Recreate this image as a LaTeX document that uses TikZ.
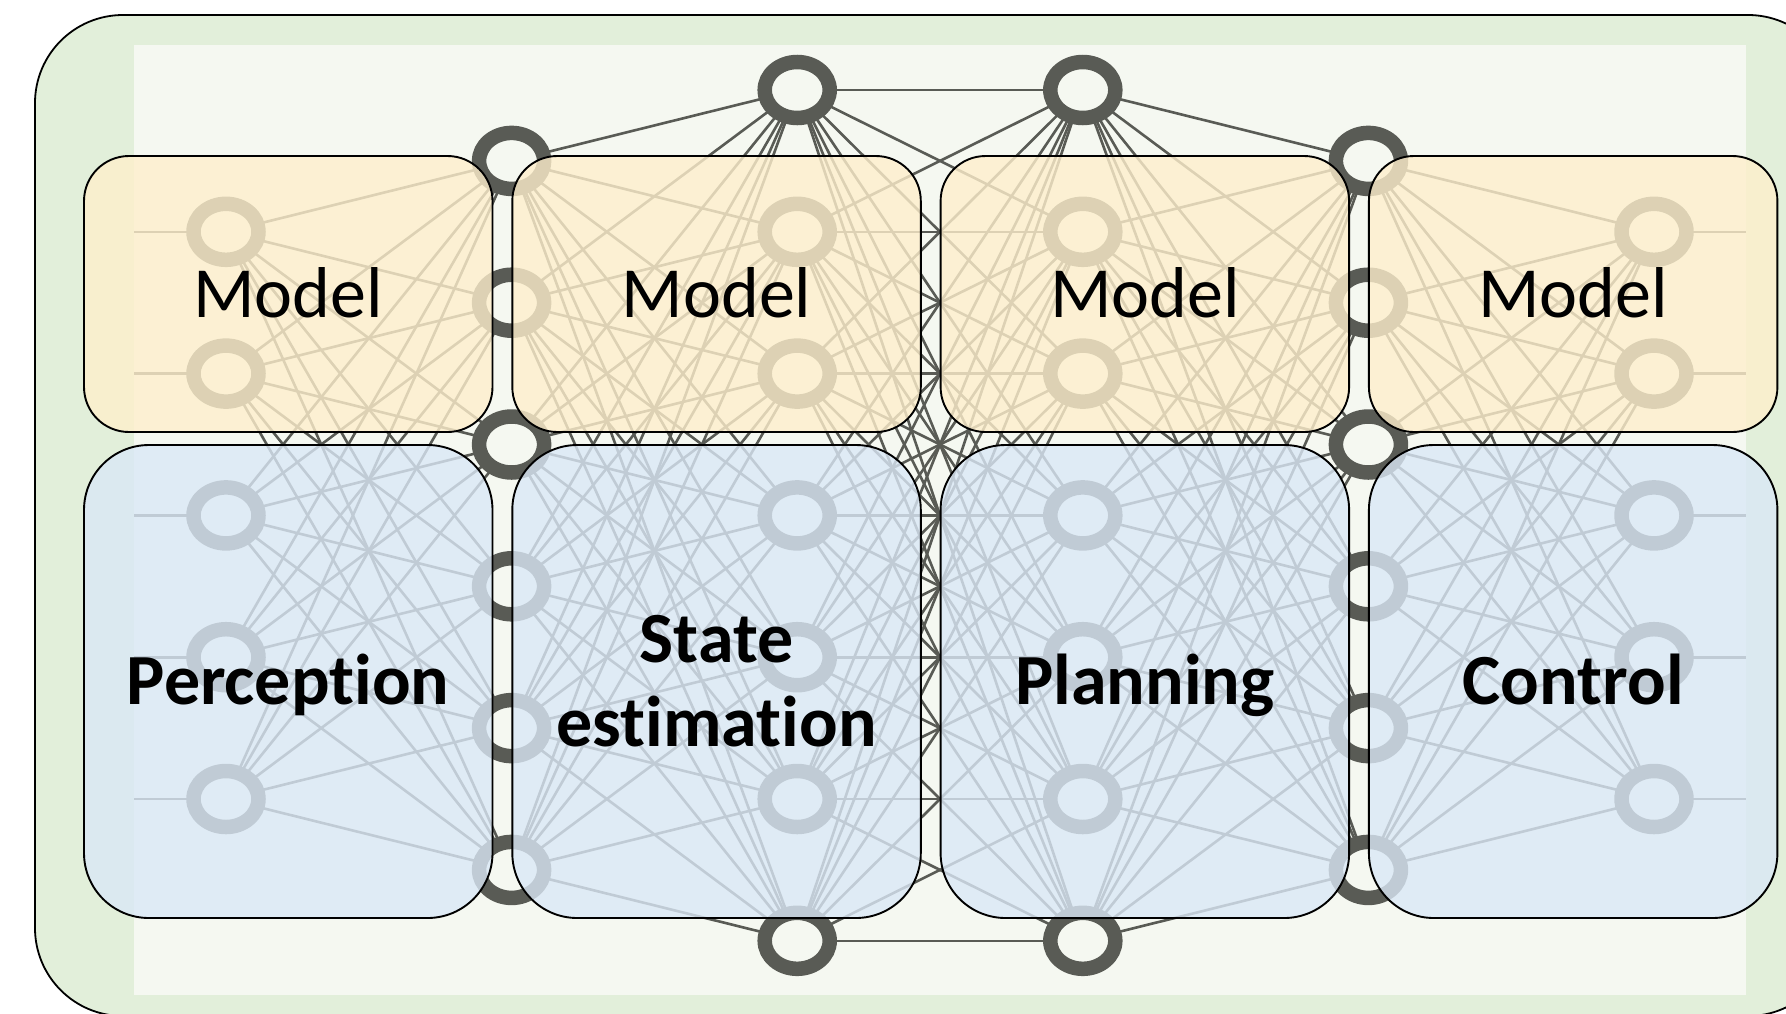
\documentclass[tikz,border=0pt]{standalone}
\usepackage{fontspec}
\setmainfont{Carlito}[Ligatures=NoCommon]
\usetikzlibrary{shapes.geometric}

\pgfdeclarelayer{backdrop}
\pgfdeclarelayer{wires}
\pgfsetlayers{backdrop,wires,main}

\definecolor{framegreen}{RGB}{226,239,218}
\definecolor{panelbg}{RGB}{245,248,241}
\definecolor{neuron}{RGB}{89,91,85}
\definecolor{modelfill}{RGB}{254,239,204}
\definecolor{stagefill}{RGB}{218,232,246}

\begin{document}
\begin{tikzpicture}[x=0.5pt,y=-0.5pt,
  unit/.style={ellipse, draw=neuron, line width=7.25pt, fill=panelbg,
    minimum width=32.5pt, minimum height=28pt, inner sep=0pt},
  wire/.style={draw=neuron, line width=1.3pt},
  modelbox/.style={rectangle, draw=black, line width=0.95pt, fill=modelfill,
    fill opacity=0.8, rounded corners=22.5pt, minimum width=204.25pt,
    minimum height=138pt, inner sep=0pt},
  stagebox/.style={rectangle, draw=black, line width=0.95pt, fill=stagefill,
    fill opacity=0.8, rounded corners=32.5pt, minimum width=204.25pt,
    minimum height=236.5pt, inner sep=0pt},
  caption/.style={font=\fontsize{36pt}{42pt}\selectfont, text=black,
    inner sep=0pt, align=center},
]
\useasboundingbox (0,0) rectangle (1786,1013);

% frame and panel
\begin{pgfonlayer}{backdrop}
  \draw[fill=framegreen, line width=0.9pt, rounded corners=44pt]
    (35,15) rectangle (1836,1016);
  \coordinate (panelL) at (134,45);
  \coordinate (panelR) at (1746,995);
  \fill[panelbg] (panelL) rectangle (panelR);
\end{pgfonlayer}

% neurons: six layers of 5,6,7,7,6,5 units
\foreach \c/\n in {1/5,2/6,3/7,4/7,5/6,6/5} {
  \foreach \r in {1,...,\n} {
    \node[unit] (u-\c-\r) at ({226+285.6*(\c-1)}, {90+141.8*((7-\n)/2+\r-1)}) {};
  }
}

% fully connected weights between neighbouring layers
\begin{pgfonlayer}{wires}
  \foreach \a/\na/\b/\nb in {1/5/2/6, 2/6/3/7, 3/7/4/7, 4/7/5/6, 5/6/6/5} {
    \foreach \i in {1,...,\na} {
      \foreach \j in {1,...,\nb} {
        \draw[wire] (u-\a-\i.center) -- (u-\b-\j.center);
      }
    }
  }
  \foreach \r in {1,...,5} {
    \draw[wire] (u-1-\r.center -| panelL) -- (u-1-\r.center);
    \draw[wire] (u-6-\r.center) -- (u-6-\r.center -| panelR);
  }
\end{pgfonlayer}

% translucent module boxes
\foreach \k/\x in {1/288.25, 2/716.55, 3/1144.85, 4/1573.15} {
  \node[modelbox] (m\k) at (\x,294) {};
  \node[stagebox] (s\k) at (\x,681.5) {};
  \node[caption, anchor=base] (tm\k) at ([yshift=-11.6pt]m\k.center) {Model};
}

\node[caption, anchor=base, font=\fontsize{36pt}{42pt}\selectfont\bfseries]
  (ts1) at ([yshift=-11.6pt]s1.center) {Perception};
\node[caption, font=\fontsize{36pt}{42pt}\selectfont\bfseries]
  (ts2) at (s2.center) {State\\estimation};
\node[caption, anchor=base, font=\fontsize{36pt}{42pt}\selectfont\bfseries]
  (ts3) at ([yshift=-11.6pt]s3.center) {Planning};
\node[caption, anchor=base, font=\fontsize{36pt}{42pt}\selectfont\bfseries]
  (ts4) at ([yshift=-11.6pt]s4.center) {Control};
\end{tikzpicture}
\end{document}
